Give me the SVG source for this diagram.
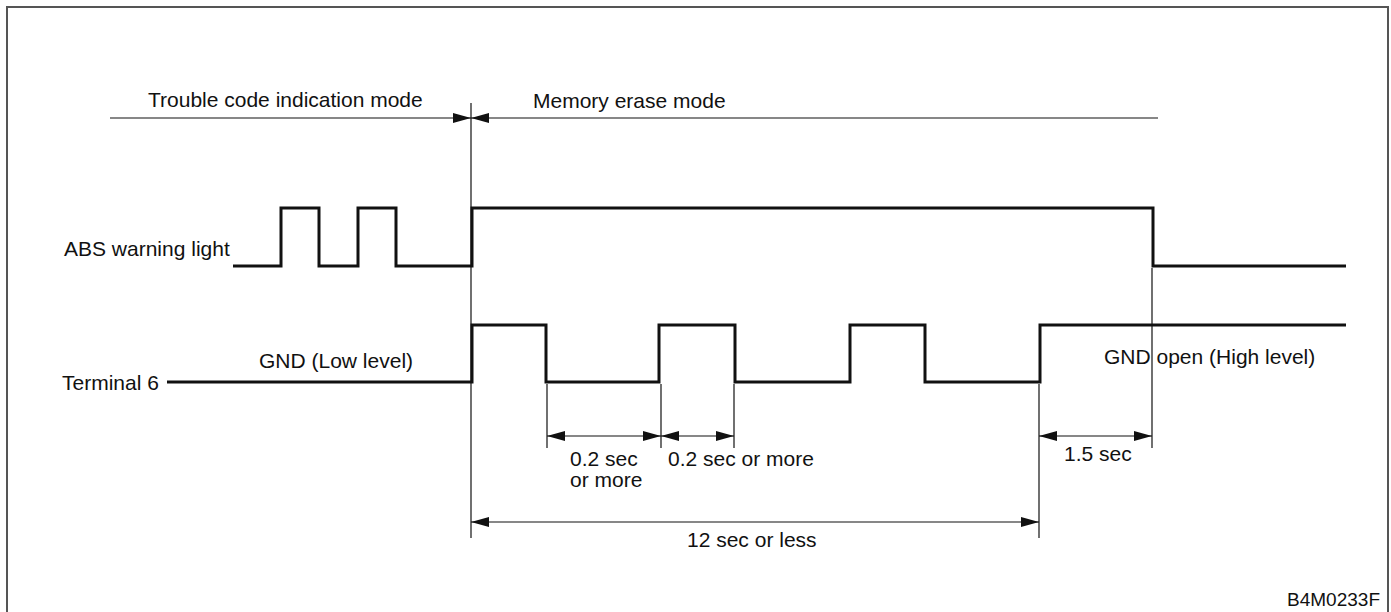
<svg xmlns="http://www.w3.org/2000/svg" width="1391" height="612" viewBox="0 0 1391 612">
<style>
text{font-family:"Liberation Sans",Arial,sans-serif;font-size:21px;fill:#111}
.sig{fill:none;stroke:#111;stroke-width:3;stroke-linejoin:miter}
.thin{fill:none;stroke:#111;stroke-width:1.2}
.dim{fill:none;stroke:#111;stroke-width:1.2;marker-start:url(#arr);marker-end:url(#arr)}
</style>
<defs>
<marker id="arr" viewBox="0 0 18 10" refX="18" refY="5" markerWidth="18" markerHeight="10" markerUnits="userSpaceOnUse" orient="auto-start-reverse">
<path d="M0,0 L18,5 L0,10 z" fill="#111"/>
</marker>
</defs>
<rect width="1391" height="612" fill="#fff"/>
<path d="M7,615 V7 H1388 V615" fill="none" stroke="#555" stroke-width="2"/>
<g id="mode-lines">
<path class="thin" d="M110,118 H471" marker-end="url(#arr)"/>
<path class="thin" d="M471,118 H1158" marker-start="url(#arr)"/>
<text x="148" y="107">Trouble code indication mode</text>
<text x="533" y="108">Memory erase mode</text>
</g>
<g id="abs-warning-light">
<text x="64" y="256">ABS warning light</text>
<path class="sig" d="M233,266 H281 V208 H319 V266 H358 V208 H396 V266 H472 V208 H1153 V266 H1346"/>
</g>
<g id="terminal-6">
<text x="62" y="390">Terminal 6</text>
<path class="sig" d="M167,382 H472 V325 H546 V382 H659 V325 H735 V382 H850 V325 H925 V382 H1040 V325 H1346"/>
<text x="259" y="368">GND (Low level)</text>
<text x="1104" y="364">GND open (High level)</text>
</g>
<g id="connectors">
<path class="thin" d="M471,103 V538"/>
<path class="thin" d="M547,384 V448"/>
<path class="thin" d="M661,384 V448"/>
<path class="thin" d="M734,384 V448"/>
<path class="thin" d="M1039,384 V538"/>
<path class="thin" d="M1152,268 V448"/>
<path class="dim" d="M547,436 H661"/>
<path class="dim" d="M661,436 H734"/>
<path class="dim" d="M1039,436 H1152"/>
<path class="dim" d="M471,522 H1039"/>
</g>
<g id="labels">
<text x="570" y="466">0.2 sec</text>
<text x="570" y="487">or more</text>
<text x="668" y="466">0.2 sec or more</text>
<text x="1064" y="461">1.5 sec</text>
<text x="687" y="547">12 sec or less</text>
<text x="1380" y="606" text-anchor="end" style="font-size:19px">B4M0233F</text>
</g>
</svg>
